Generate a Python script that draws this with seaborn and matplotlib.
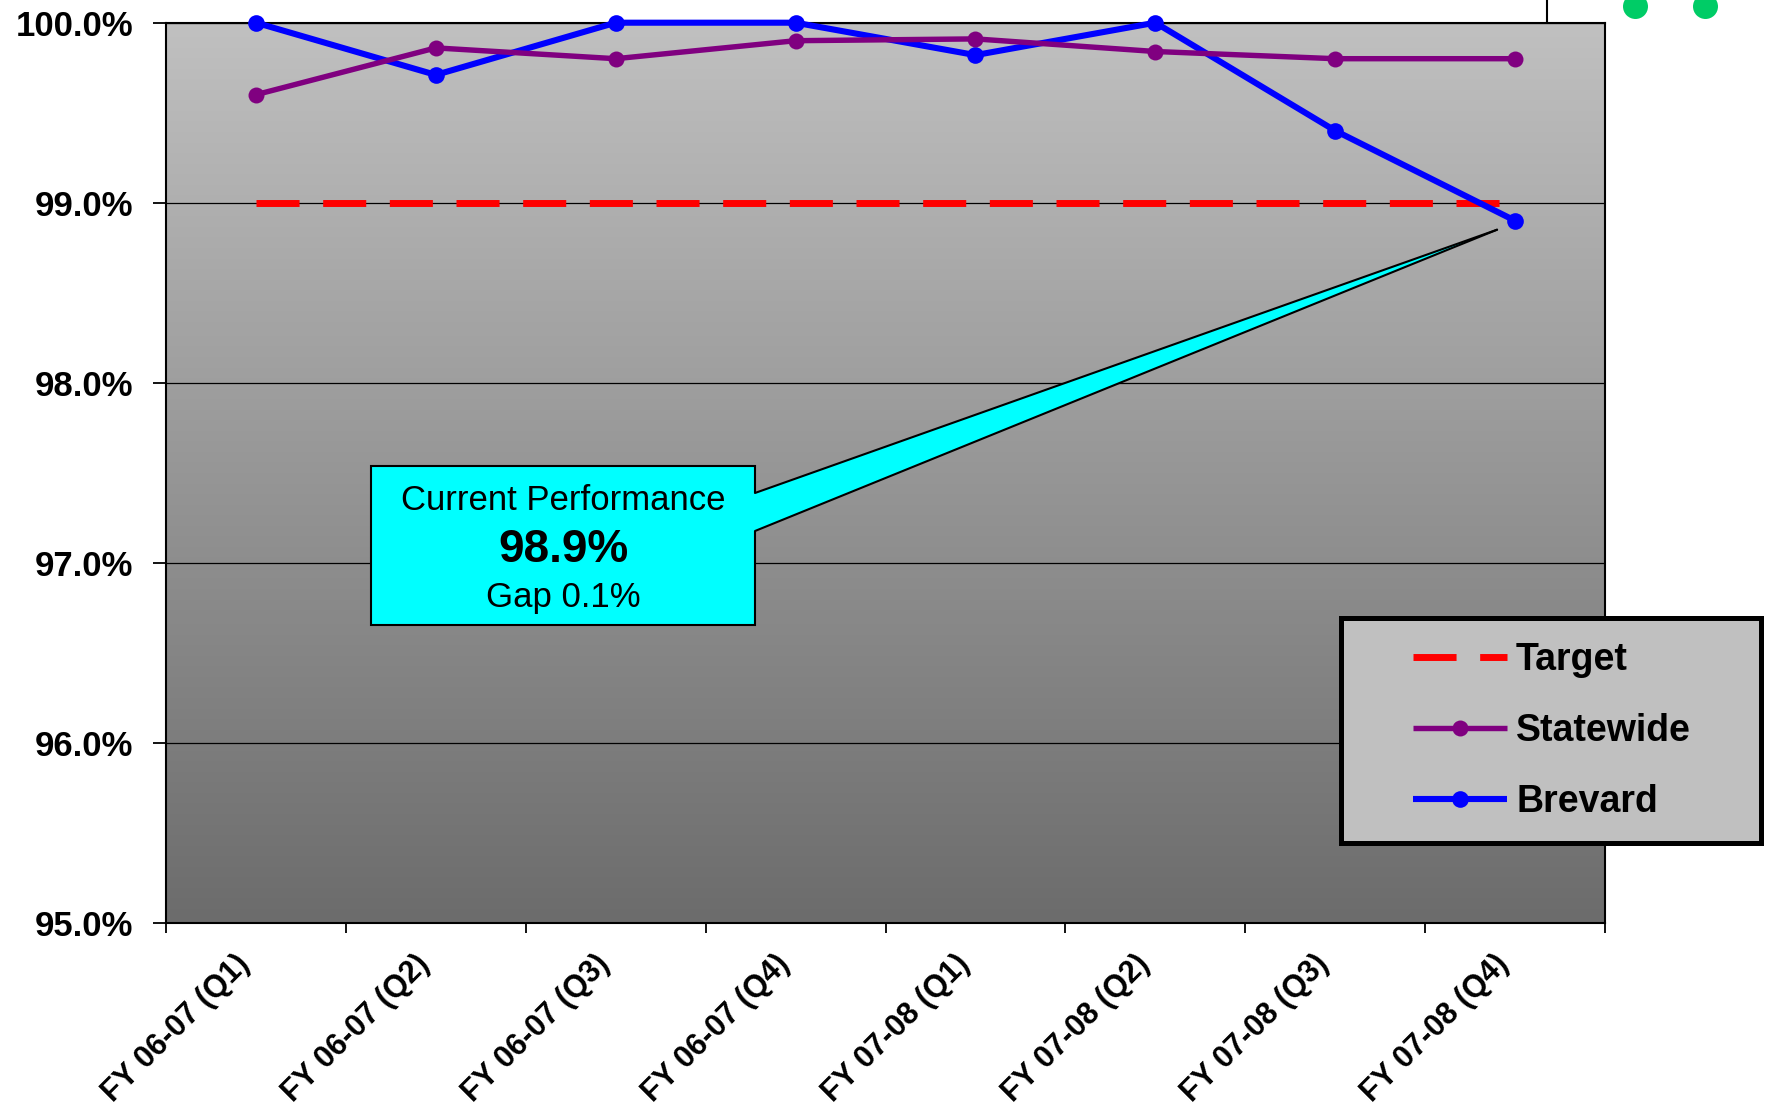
import numpy as np
import pandas as pd
import matplotlib
matplotlib.use('Agg')
import matplotlib.pyplot as plt
import seaborn as sns
from matplotlib.patches import Rectangle, Polygon
from matplotlib.lines import Line2D
from matplotlib.ticker import FixedLocator, FuncFormatter
from matplotlib.colors import LinearSegmentedColormap

# Datos
trimestres = ['FY 06-07 (Q1)', 'FY 06-07 (Q2)', 'FY 06-07 (Q3)', 'FY 06-07 (Q4)',
              'FY 07-08 (Q1)', 'FY 07-08 (Q2)', 'FY 07-08 (Q3)', 'FY 07-08 (Q4)']
statewide = [99.60, 99.86, 99.80, 99.90, 99.91, 99.84, 99.80, 99.80]
brevard = [100.0, 99.71, 100.0, 100.0, 99.82, 100.0, 99.40, 98.90]
target = [99.0, 99.0, 99.0, 99.0, 99.0, 99.0, 99.0, 99.0]
y_ticks = [95.0, 96.0, 97.0, 98.0, 99.0, 100.0]

sns.set_style('white')
plt.rcParams['font.family'] = ['Liberation Sans', 'DejaVu Sans']
plt.rcParams['text.color'] = 'black'
plt.rcParams['xtick.color'] = 'black'
plt.rcParams['ytick.color'] = 'black'

W, H = 1775, 1112
fig = plt.figure(figsize=(W / 100, H / 100), dpi=100)
ax = fig.add_axes([166 / W, 1 - 922.7 / H, (1605 - 166) / W, 900 / H])

df = pd.DataFrame({'trimestre': trimestres, 'Target': target,
                   'Statewide': statewide, 'Brevard': brevard})

sns.lineplot(data=df, x='trimestre', y='Target', ax=ax, color='#ff0000', lw=5,
             linestyle=(0, (6.2, 3.4)), label='Target', sort=False, zorder=3)
sns.lineplot(data=df, x='trimestre', y='Brevard', ax=ax, color='#0000ff', lw=4.4,
             marker='o', markersize=12, markeredgewidth=0, label='Brevard', sort=False, zorder=4)
sns.lineplot(data=df, x='trimestre', y='Statewide', ax=ax, color='#800080', lw=3.9,
             marker='o', markersize=11.5, markeredgewidth=0, label='Statewide', sort=False, zorder=5)
for l in ax.lines:
    l.set_clip_on(False)
    l.set_solid_capstyle('butt')
    l.set_dash_capstyle('butt')

# fondo degradado
cmap = LinearSegmentedColormap.from_list('gris', ['#6c6c6c', '#c0c0c0'])
grad = np.linspace(0, 1, 256).reshape(-1, 1)
ax.imshow(grad, extent=[0, 1, 0, 1], transform=ax.transAxes, cmap=cmap,
          aspect='auto', origin='lower', zorder=-1)

ax.set_xlim(-0.5, 7.5)
ax.set_ylim(95, 100)
ax.set_yticks(y_ticks)
ax.yaxis.set_major_formatter(FuncFormatter(lambda v, p: f'{v:.1f}%'))
ax.yaxis.grid(True, color='black', lw=0.9)
ax.xaxis.grid(False)
ax.set_xlabel('')
ax.set_ylabel('')

ax.xaxis.set_minor_locator(FixedLocator(np.arange(-0.5, 8, 1)))
ax.tick_params(axis='x', which='major', length=0, pad=34)
ax.tick_params(axis='x', which='minor', length=7, width=1.3, color='black', direction='out', bottom=True)
ax.tick_params(axis='y', which='major', length=9.5, width=1.3, color='black', direction='out', left=True, pad=14)
for lab in ax.get_yticklabels():
    lab.set_fontsize(25)
    lab.set_fontweight('bold')
ax.set_xticks(range(len(trimestres)))
ax.set_xticklabels(trimestres, rotation=45, ha='right', va='bottom',
                   rotation_mode='anchor', fontsize=22, fontweight='bold')
for s in ax.spines.values():
    s.set_color('black')
    s.set_linewidth(1.5)

leg = ax.get_legend()
handles, labels = ax.get_legend_handles_labels()
if leg is not None:
    leg.remove()
orden = ['Target', 'Statewide', 'Brevard']
hmap = dict(zip(labels, handles))

# caja de la leyenda
fig.patches.append(Rectangle((1340.5 / W, 1 - 842.5 / H), 420 / W, 225 / H,
                             transform=fig.transFigure, facecolor='#c0c0c0',
                             edgecolor='black', lw=3.6, zorder=2))
fig.legend([hmap[k] for k in orden], orden, loc='upper left',
           bbox_to_anchor=(1413 / W, 1 - 642 / H), frameon=False,
           prop=dict(weight='bold', size=27), handlelength=2.5, handletextpad=0.25,
           labelspacing=0.93, borderpad=0, borderaxespad=0)

# llamada con la cola
x0, x1 = (371 - 166) / 1439, (755 - 166) / 1439
y0, y1 = (922.7 - 625) / 900, (922.7 - 466) / 900
ax.add_patch(Rectangle((x0, y0), x1 - x0, y1 - y0, transform=ax.transAxes,
                       facecolor='#00ffff', edgecolor='black', lw=1.5, zorder=6))
punta = ax.transAxes.inverted().transform(ax.transData.transform((7 - 0.1, brevard[-1] - 0.05)))
yb1, yb2 = (922.7 - 493) / 900, (922.7 - 531) / 900
ax.add_patch(Polygon([(x1 - 0.004, yb1), (x1, yb1), tuple(punta), (x1, yb2), (x1 - 0.004, yb2)],
                     closed=True, transform=ax.transAxes, facecolor='#00ffff',
                     edgecolor='none', zorder=7))
for yb in (yb1, yb2):
    ax.add_line(Line2D([x1, punta[0]], [yb, punta[1]], transform=ax.transAxes,
                       color='black', lw=1.5, zorder=8))
cx = (x0 + x1) / 2
ax.text(cx, (922.7 - 500) / 900, 'Current Performance', transform=ax.transAxes,
        ha='center', va='center', fontsize=25, zorder=9)
ax.text(cx, (922.7 - 550) / 900, '98.9%', transform=ax.transAxes,
        ha='center', va='center', fontsize=33, fontweight='bold', zorder=9)
ax.text(cx, (922.7 - 597) / 900, 'Gap 0.1%', transform=ax.transAxes,
        ha='center', va='center', fontsize=25, zorder=9)

# restos de la diapositiva arriba a la derecha
fig.add_artist(Line2D([1547 / W, 1547 / W], [1, 1 - 23 / H], transform=fig.transFigure,
                      color='black', lw=1.5))
for gx in (1635, 1705):
    fig.add_artist(Line2D([gx / W], [1 - 6 / H], transform=fig.transFigure, marker='o',
                          markersize=18, color='#00cc66', markeredgewidth=0))

fig.savefig('out.png', dpi=100)
